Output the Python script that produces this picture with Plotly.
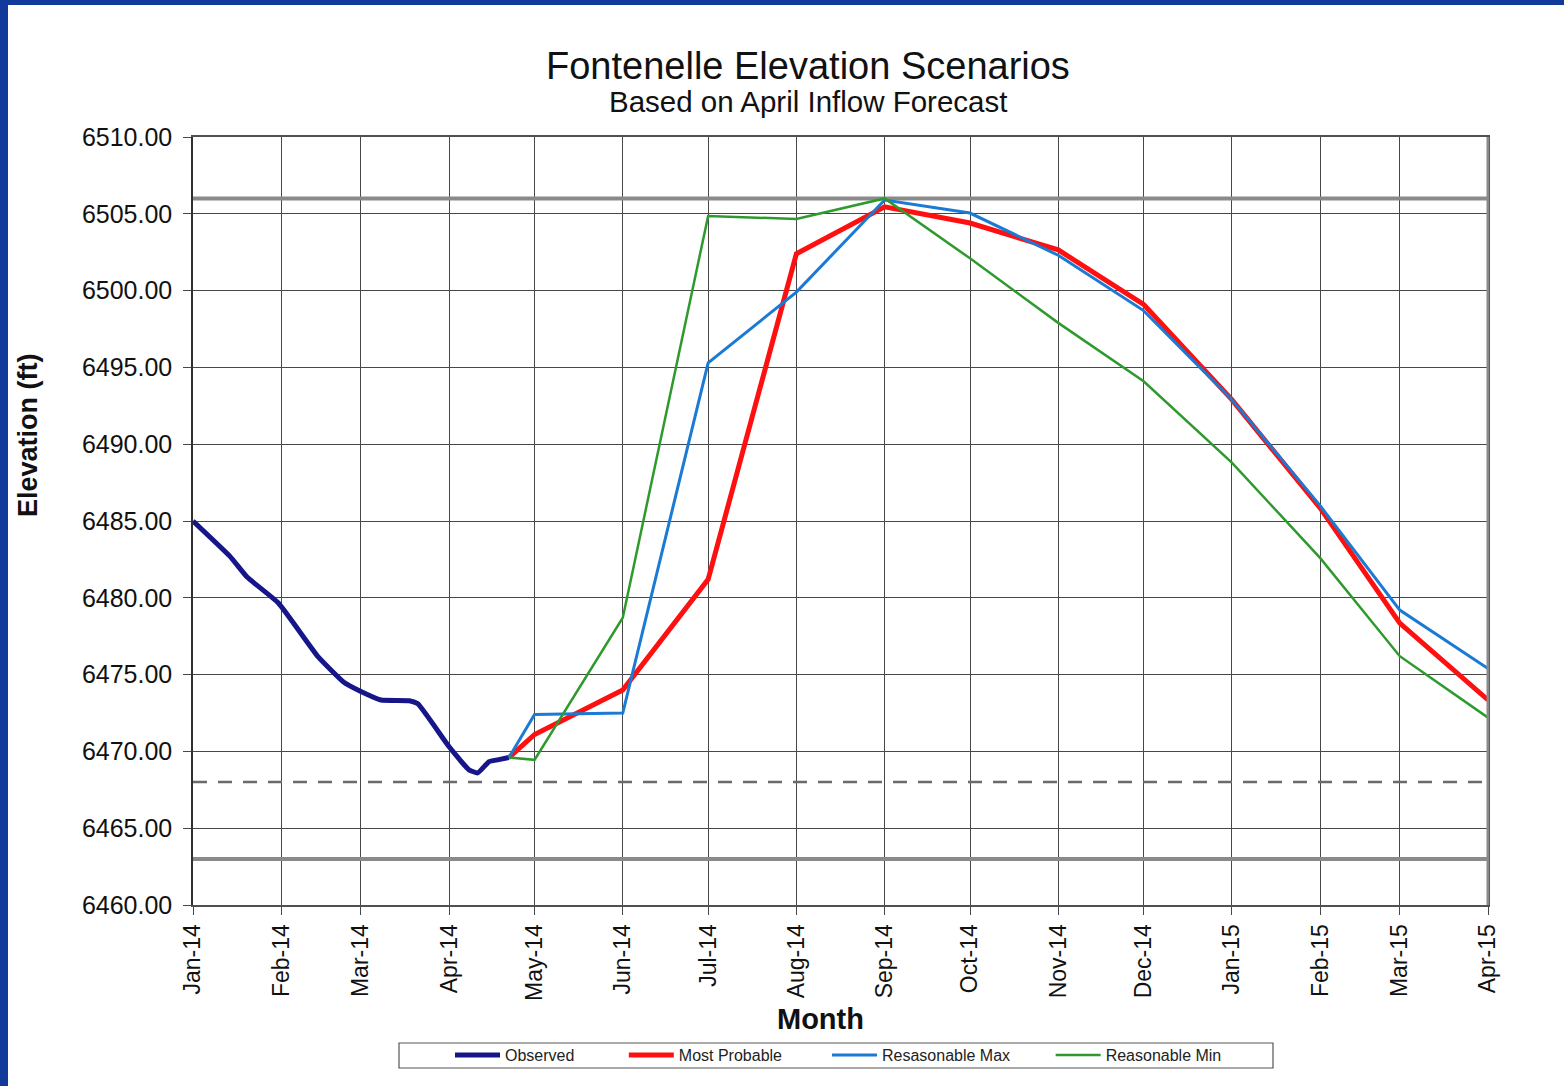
import plotly.graph_objects as go

# ---- data ----
obs_dates = ["2014-01-01", "2014-01-14", "2014-01-20", "2014-01-31", "2014-02-14",
             "2014-02-23", "2014-03-01", "2014-03-08", "2014-03-18", "2014-03-21",
             "2014-04-01", "2014-04-08", "2014-04-11", "2014-04-15", "2014-04-18",
             "2014-04-22"]
obs_vals = [6485.0, 6482.7, 6481.35, 6479.66, 6476.15, 6474.5, 6473.9, 6473.35,
            6473.3, 6473.1, 6470.3, 6468.8, 6468.6, 6469.33, 6469.45, 6469.6]

fc_dates = ["2014-04-22", "2014-05-01", "2014-06-01", "2014-07-01", "2014-08-01",
            "2014-09-01", "2014-10-01", "2014-11-01", "2014-12-01", "2015-01-01",
            "2015-02-01", "2015-03-01", "2015-04-01"]
most_probable = [6469.6, 6471.1, 6474.0, 6481.2, 6502.4, 6505.45, 6504.4, 6502.65,
                 6499.1, 6492.9, 6485.85, 6478.35, 6473.35]
reasonable_max = [6469.6, 6472.4, 6472.5, 6495.3, 6499.9, 6505.9, 6505.05, 6502.3,
                  6498.7, 6492.9, 6486.0, 6479.2, 6475.4]
reasonable_min = [6469.6, 6469.45, 6478.7, 6504.86, 6504.66, 6506.0, 6502.1, 6497.9,
                  6494.1, 6488.8, 6482.6, 6476.2, 6472.2]

series_names = ["Observed", "Most Probable", "Resasonable Max", "Reasonable Min"]

ref_upper = 6506.0
ref_dashed = 6468.0
ref_lower = 6463.0

x_start, x_end = "2014-01-01", "2015-04-01"

# ---- figure ----
FONT = "Liberation Sans, Arial, sans-serif"
LEGFONT = "Liberation Sans Narrow, Arial Narrow, Liberation Sans, sans-serif"
NB = "\u00a0"

fig = go.Figure()

for val, col, w, dash in [(ref_upper, "#8a8a8a", 4, "solid"),
                          (ref_lower, "#8a8a8a", 4, "solid"),
                          (ref_dashed, "#6a6a6a", 2.5, "14px,11px")]:
    fig.add_trace(go.Scatter(x=[x_start, x_end], y=[val, val], mode="lines",
                             line=dict(color=col, width=w, dash=dash),
                             showlegend=False, hoverinfo="skip"))

pads = [10, 9, 8, 0]
fig.add_trace(go.Scatter(x=obs_dates, y=obs_vals, mode="lines",
                         name=series_names[0] + NB * pads[0],
                         line=dict(color="#16168a", width=5, shape="spline", smoothing=0.4)))
fig.add_trace(go.Scatter(x=fc_dates, y=most_probable, mode="lines",
                         name=series_names[1] + NB * pads[1],
                         line=dict(color="#ff1010", width=5)))
fig.add_trace(go.Scatter(x=fc_dates, y=reasonable_max, mode="lines",
                         name=series_names[2] + NB * pads[2],
                         line=dict(color="#1a7ad4", width=3)))
fig.add_trace(go.Scatter(x=fc_dates, y=reasonable_min, mode="lines",
                         name=series_names[3] + NB * pads[3],
                         line=dict(color="#2e9a2e", width=2.5)))

L, R, T, B = 193, 76, 137, 181
PW, PH = 1564 - L - R, 1086 - T - B

def px(xp):
    return (xp - L) / PW

def py(yp):
    return (1086 - B - yp) / PH

fig.update_layout(
    width=1564, height=1086,
    margin=dict(l=L, r=R, t=T, b=B, autoexpand=False),
    paper_bgcolor="white", plot_bgcolor="white",
    font=dict(family=FONT, color="#111111"),
    showlegend=True,
    legend=dict(orientation="h", x=px(450), xanchor="left", y=py(1038), yanchor="top",
                borderwidth=0, bgcolor="rgba(0,0,0,0)",
                font=dict(family=LEGFONT, size=16, color="#222222"),
                tracegroupgap=0, itemwidth=45),
    xaxis=dict(type="date", range=[x_start, x_end], dtick="M1", tick0="2014-01-01",
               tickformat="%b-%y", tickangle=-90,
               tickfont=dict(size=23, color="#111111"),
               showgrid=True, gridcolor="#484848", gridwidth=1.2,
               ticks="outside", ticklen=8, tickcolor="#484848",
               showline=True, linecolor="#505050", linewidth=2, mirror=True,
               zeroline=False),
    yaxis=dict(range=[6460, 6510], dtick=5, tickformat=".2f",
               tickfont=dict(size=25, color="#111111"),
               showgrid=True, gridcolor="#484848", gridwidth=1.2,
               ticks="outside", ticklen=8, tickcolor="#484848",
               ticklabelstandoff=6,
               showline=True, linecolor="#303030", linewidth=1.5, mirror=True,
               zeroline=False),
    annotations=[
        dict(text="Fontenelle Elevation Scenarios", xref="paper", yref="paper",
             x=px(808), y=py(66), xanchor="center", yanchor="middle", showarrow=False,
             font=dict(size=38, family=FONT, color="#111111")),
        dict(text="Based on April Inflow Forecast", xref="paper", yref="paper",
             x=px(808), y=py(101), xanchor="center", yanchor="middle", showarrow=False,
             font=dict(size=29.5, family=FONT, color="#111111")),
        dict(text="<b>Elevation (ft)</b>", xref="paper", yref="paper",
             x=px(28), y=py(435), xanchor="center", yanchor="middle", showarrow=False,
             textangle=-90, font=dict(size=27, family=FONT, color="#111111")),
        dict(text="<b>Month</b>", xref="paper", yref="paper",
             x=px(820), y=py(1019), xanchor="center", yanchor="middle", showarrow=False,
             font=dict(size=29, family=FONT, color="#111111")),
    ],
    shapes=[
        dict(type="rect", xref="paper", yref="paper", x0=px(0), x1=px(8), y0=py(1086), y1=py(0),
             fillcolor="#123a9a", line=dict(width=0), layer="above"),
        dict(type="rect", xref="paper", yref="paper", x0=px(0), x1=px(1564), y0=py(5), y1=py(0),
             fillcolor="#123a9a", line=dict(width=0), layer="above"),
        dict(type="line", xref="paper", yref="paper", x0=1, x1=1, y0=0, y1=1,
             line=dict(color="#8a8a8a", width=3), layer="above"),
        dict(type="rect", xref="paper", yref="paper", x0=px(399), x1=px(1273),
             y0=py(1068), y1=py(1043), fillcolor="rgba(0,0,0,0)",
             line=dict(color="#555555", width=1.2), layer="below"),
    ],
)

fig.write_html("out.html", config={"displayModeBar": False},
               post_script="document.body.style.margin='0';document.body.style.overflow='hidden';")
